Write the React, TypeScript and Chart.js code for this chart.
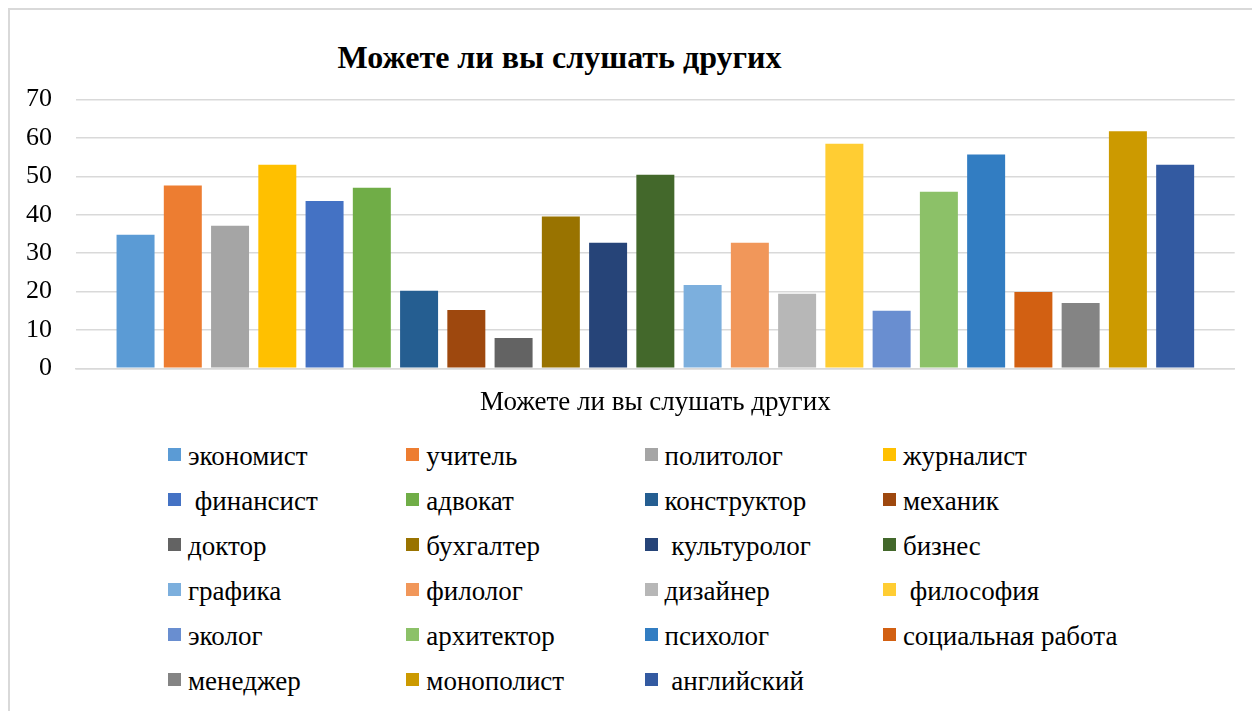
import React, { useEffect, useRef } from "react";
import { Chart, registerables } from "chart.js";

Chart.register(...registerables);

const chartTitle = "Можете ли вы слушать других";
const categories = ["Можете ли вы слушать других"];

const seriesNames = [
  "экономист",
  "учитель",
  "политолог",
  "журналист",
  " финансист",
  "адвокат",
  "конструктор",
  "механик",
  "доктор",
  "бухгалтер",
  " культуролог",
  "бизнес",
  "графика",
  "филолог",
  "дизайнер",
  " философия",
  "эколог",
  "архитектор",
  "психолог",
  "социальная работа",
  "менеджер",
  "монополист",
  " английский",
];

const seriesValues = [
  34.8, 47.6, 37.1, 53.0, 43.6, 47.0, 20.2, 15.2, 7.9, 39.5, 32.7, 50.4,
  21.7, 32.7, 19.4, 58.5, 15.0, 46.0, 55.7, 19.9, 17.0, 61.7, 53.0,
];

const seriesColors = [
  "#5B9BD5", "#ED7D31", "#A5A5A5", "#FFC000", "#4472C4", "#70AD47",
  "#255E91", "#9E480E", "#636363", "#997300", "#264478", "#43682B",
  "#7CAFDD", "#F1975A", "#B7B7B7", "#FFCD33", "#698ED0", "#8CC168",
  "#327DC2", "#D26012", "#848484", "#CC9A00", "#335AA1",
];

const yMin = 0;
const yMax = 70;
const yStep = 10;

const SERIF = "'Liberation Serif', 'Times New Roman', serif";

export default function App() {
  const canvasRef = useRef<HTMLCanvasElement | null>(null);

  useEffect(() => {
    if (!canvasRef.current) return;
    const chart = new Chart(canvasRef.current, {
      type: "bar",
      data: {
        labels: categories,
        datasets: seriesNames.map((name, i) => ({
          label: name,
          data: [seriesValues[i]],
          backgroundColor: seriesColors[i],
          borderWidth: 0,
          barPercentage: 0.804,
          categoryPercentage: 0.938,
        })),
      },
      options: {
        responsive: false,
        animation: false,
        layout: { padding: { left: 10, right: 15.3, top: 89.5, bottom: 0 } },
        plugins: {
          legend: { display: false },
          title: { display: false },
          tooltip: { enabled: false },
        },
        scales: {
          x: {
            grid: { display: false, drawTicks: false },
            border: { display: true, color: "#d9d9d9", width: 1.5 },
            ticks: {
              color: "#000",
              padding: 18,
              font: { family: SERIF, size: 27 },
            },
            afterFit: (s: any) => {
              s.height = 51.7;
            },
          },
          y: {
            min: yMin,
            max: yMax,
            ticks: {
              stepSize: yStep,
              color: "#000",
              padding: 24,
              font: { family: SERIF, size: 26 },
            },
            grid: { color: "#d9d9d9", lineWidth: 1.5, drawTicks: false },
            border: { display: false },
            afterFit: (s: any) => {
              s.width = 56;
            },
          },
        },
      },
    });
    return () => chart.destroy();
  }, []);

  const colX = (c: number) => 168 + c * 238.3;
  const rowY = (r: number) => 456.5 + r * 44.9;

  return (
    <div
      style={{
        position: "absolute",
        left: 0,
        top: 0,
        width: 1252,
        height: 711,
        overflow: "hidden",
        background: "#fff",
        fontFamily: SERIF,
      }}
    >
      <div
        style={{
          position: "absolute",
          left: 8,
          top: 8,
          width: 1300,
          height: 800,
          border: "2px solid #d9d9d9",
          boxSizing: "border-box",
        }}
      />
      <div
        style={{
          position: "absolute",
          left: 0,
          top: 41,
          width: 1119,
          height: 32,
          lineHeight: "32px",
          textAlign: "center",
          fontWeight: "bold",
          fontSize: 32,
          color: "#000",
          whiteSpace: "pre",
        }}
      >
        {chartTitle}
      </div>
      <canvas
        ref={canvasRef}
        width={1240}
        height={410}
        style={{ position: "absolute", left: 10, top: 10, width: 1240, height: 410 }}
      />
      {seriesNames.map((name, i) => {
        const c = i % 4;
        const r = Math.floor(i / 4);
        return (
          <div
            key={i}
            style={{
              position: "absolute",
              left: colX(c),
              top: rowY(r) - 16,
              height: 32,
              display: "flex",
              alignItems: "center",
              whiteSpace: "pre",
              fontSize: 27,
              color: "#000",
            }}
          >
            <span
              style={{
                display: "inline-block",
                width: 13,
                height: 13,
                background: seriesColors[i],
                marginRight: 7,
                marginTop: -4,
              }}
            />
            <span>{name}</span>
          </div>
        );
      })}
    </div>
  );
}
